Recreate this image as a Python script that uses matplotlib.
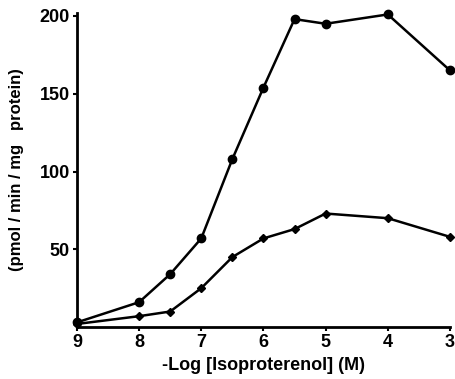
import matplotlib.pyplot as plt

# -log concentration and activity values
neg_log_conc = [9, 8, 7.5, 7, 6.5, 6, 5.5, 5, 4, 3]
activity_circle = [3, 16, 34, 57, 108, 154, 198, 195, 201, 165]
activity_diamond = [2, 7, 10, 25, 45, 57, 63, 73, 70, 58]

x_ticks = [9, 8, 7, 6, 5, 4, 3]
y_ticks = [50, 100, 150, 200]

plt.rcParams["font.family"] = ["Liberation Sans", "DejaVu Sans"]
plt.rcParams["font.weight"] = "bold"

fig = plt.figure(figsize=(4.55, 3.79), dpi=100)
ax = fig.add_axes([0.169, 0.137, 0.820, 0.829])

ax.plot(neg_log_conc, activity_circle, color="black", lw=1.8,
        marker="o", markersize=6, clip_on=False)
ax.plot(neg_log_conc, activity_diamond, color="black", lw=1.8,
        marker="D", markersize=4.5, clip_on=False)

ax.set_xlim(9, 3)
ax.set_ylim(0, 202)
ax.set_xticks(x_ticks)
ax.set_yticks(y_ticks)
ax.tick_params(axis="both", labelsize=13, width=1.5, length=3, pad=2)

for side in ("top", "right"):
    ax.spines[side].set_visible(False)
for side in ("left", "bottom"):
    ax.spines[side].set_linewidth(2)

ax.set_xlabel("-Log [Isoproterenol] (M)", fontsize=13, fontweight="bold",
              labelpad=4)
ax.set_ylabel("(pmol / min / mg   protein)", fontsize=12, fontweight="bold",
              labelpad=11)

fig.savefig("out.png", dpi=100)
